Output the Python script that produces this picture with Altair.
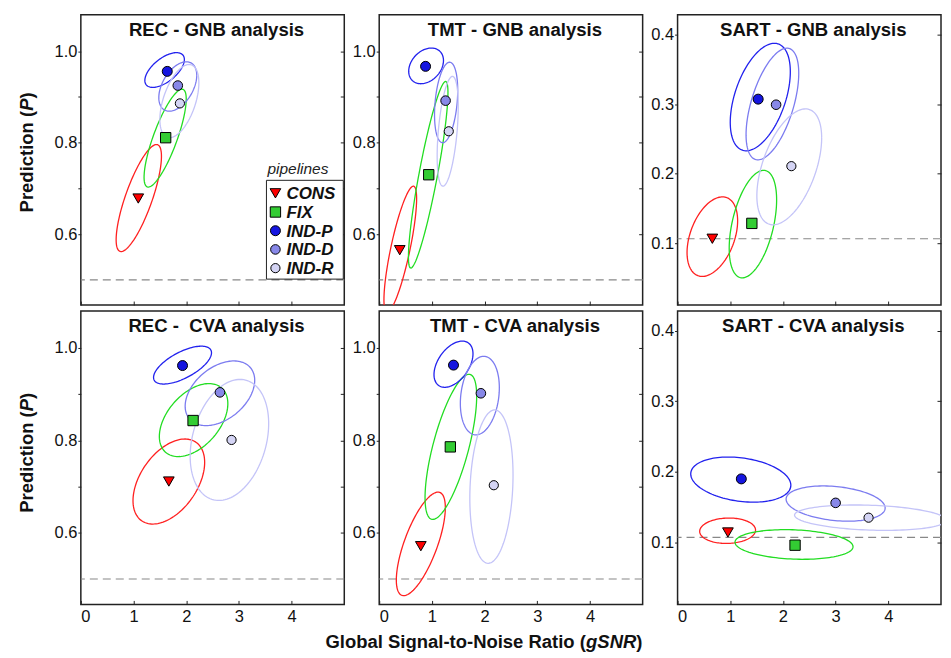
import altair as alt
import pandas as pd

FONT = "Liberation Sans"

pipelines = ["CONS", "FIX", "IND-P", "IND-D", "IND-R"]
fill_colors = ["#FF0000", "#33CC33", "#1515E0", "#8888E8", "#D4D4F4"]
ellipse_colors = ["#FF2020", "#22DD22", "#2222EE", "#7C7CF0", "#C4C4F8"]
shapes = ["triangle-down", "square", "circle", "circle", "circle"]
marker_sizes = [115, 85, 85, 85, 85]
legend_rank = [0, 1, 2, 3, 4]

panels = ["REC-GNB", "TMT-GNB", "SART-GNB", "REC-CVA", "TMT-CVA", "SART-CVA"]
panel_titles = ["REC - GNB analysis", "TMT - GNB analysis", "SART - GNB analysis",
                "REC -\u00a0 CVA analysis", "TMT - CVA analysis", "SART - CVA analysis"]
chance_levels = [0.5, 0.5, 0.107, 0.5, 0.5, 0.107]

# median points (pipeline order: CONS, FIX, IND-P, IND-D, IND-R)
point_x = {
    "REC-GNB": [1.09, 1.61, 1.64, 1.84, 1.88],
    "TMT-GNB": [0.39, 0.94, 0.88, 1.26, 1.32],
    "SART-GNB": [0.66, 1.41, 1.53, 1.87, 2.16],
    "REC-CVA": [1.67, 2.13, 1.93, 2.64, 2.86],
    "TMT-CVA": [0.79, 1.35, 1.41, 1.93, 2.175],
    "SART-CVA": [0.956, 2.23, 1.21, 3.0, 3.625],
}
point_y = {
    "REC-GNB": [0.678, 0.811, 0.956, 0.925, 0.886],
    "TMT-GNB": [0.565, 0.730, 0.967, 0.892, 0.825],
    "SART-GNB": [0.107, 0.129, 0.307, 0.299, 0.211],
    "REC-CVA": [0.711, 0.843, 0.962, 0.904, 0.801],
    "TMT-CVA": [0.571, 0.786, 0.963, 0.902, 0.703],
    "SART-CVA": [0.114, 0.096, 0.190, 0.156, 0.135],
}

# confidence ellipses: centre, half-extent in x and y, x-y correlation
ell_cx = {
    "REC-GNB": [1.10, 1.60, 1.59, 1.84, 1.87],
    "TMT-GNB": [0.40, 0.93, 0.89, 1.27, 1.30],
    "SART-GNB": [0.66, 1.43, 1.57, 1.80, 2.12],
    "REC-CVA": [1.67, 2.14, 1.93, 2.64, 2.82],
    "TMT-CVA": [0.79, 1.36, 1.41, 1.91, 2.13],
    "SART-CVA": [0.95, 2.21, 1.20, 3.00, 3.66],
}
ell_cy = {
    "REC-GNB": [0.679, 0.810, 0.959, 0.923, 0.891],
    "TMT-GNB": [0.567, 0.730, 0.968, 0.888, 0.825],
    "SART-GNB": [0.110, 0.128, 0.310, 0.300, 0.210],
    "REC-CVA": [0.711, 0.844, 0.963, 0.902, 0.801],
    "TMT-CVA": [0.576, 0.786, 0.965, 0.897, 0.700],
    "SART-CVA": [0.1165, 0.097, 0.189, 0.155, 0.135],
}
ell_sx = {
    "REC-GNB": [0.43, 0.40, 0.375, 0.36, 0.37],
    "TMT-GNB": [0.31, 0.375, 0.33, 0.22, 0.20],
    "SART-GNB": [0.48, 0.45, 0.57, 0.50, 0.615],
    "REC-CVA": [0.68, 0.65, 0.55, 0.66, 0.745],
    "TMT-CVA": [0.465, 0.49, 0.37, 0.37, 0.41],
    "SART-CVA": [0.53, 1.12, 0.95, 0.94, 1.44],
}
ell_sy = {
    "REC-GNB": [0.117, 0.107, 0.038, 0.054, 0.080],
    "TMT-GNB": [0.138, 0.204, 0.039, 0.088, 0.120],
    "SART-GNB": [0.057, 0.077, 0.077, 0.080, 0.083],
    "REC-CVA": [0.092, 0.079, 0.041, 0.070, 0.131],
    "TMT-CVA": [0.112, 0.157, 0.050, 0.085, 0.166],
    "SART-CVA": [0.018, 0.021, 0.032, 0.025, 0.018],
}
ell_r = {
    "REC-GNB": [0.78, 0.80, 0.60, 0.45, 0.50],
    "TMT-GNB": [0.80, 0.88, 0.30, 0.30, 0.45],
    "SART-GNB": [0.40, 0.45, 0.47, 0.55, 0.50],
    "REC-CVA": [0.45, 0.45, 0.65, 0.40, 0.27],
    "TMT-CVA": [0.70, 0.70, 0.45, 0.20, 0.15],
    "SART-CVA": [0.05, -0.15, -0.25, -0.25, -0.20],
}

pts_rows, ell_rows = [], []
for p in panels:
    for k, name in enumerate(pipelines):
        pts_rows.append({"panel": p, "pipeline": name, "x": point_x[p][k], "y": point_y[p][k]})
        ell_rows.append({"panel": p, "pipeline": name, "cx": ell_cx[p][k], "cy": ell_cy[p][k],
                         "sx": ell_sx[p][k], "sy": ell_sy[p][k], "r": ell_r[p][k]})
pts_df = pd.DataFrame(pts_rows)
ell_df = pd.DataFrame(ell_rows)
legend_df = pd.DataFrame({"pipeline": pipelines, "rank": legend_rank})

W = 264
HEIGHTS = [291, 294]
TITLE_SIZE = 18.5

color_scale = alt.Scale(domain=pipelines, range=fill_colors)
shape_scale = alt.Scale(domain=pipelines, range=shapes)
size_scale = alt.Scale(domain=pipelines, range=marker_sizes)


def text_piece(txt, x, y, angle=0, italic=False, bold=True, size=TITLE_SIZE, align="left",
               baseline="alphabetic", color="#111"):
    kw = dict(font=FONT, fontSize=size, color=color, align=align, baseline=baseline, angle=angle)
    if italic:
        kw["fontStyle"] = "italic"
    if bold:
        kw["fontWeight"] = "bold"
    return alt.Chart(pd.DataFrame({"t": [txt]})).mark_text(**kw).encode(
        text="t:N", x=alt.value(x), y=alt.value(y))


def y_title(center):
    # "Prediction (" + italic "P" + ")" reading bottom-to-top
    em = TITLE_SIZE
    w1, w2, w3 = 5.501 * em, 0.667 * em, 0.333 * em
    start = center + (w1 + w2 + w3) / 2
    xx = -54
    return [
        text_piece("Prediction (", xx, start, angle=270, baseline="middle"),
        text_piece("P", xx, start - w1, angle=270, baseline="middle", italic=True),
        text_piece(")", xx, start - w1 - w2, angle=270, baseline="middle"),
    ]


def x_title():
    # "Global Signal-to-Noise Ratio (" + italic "gSNR" + ")"
    em = TITLE_SIZE
    w1, w2 = 14.113 * em, 2.722 * em
    total = w1 + w2 + 0.333 * em
    x0 = 105 - total / 2
    yb = 338
    return [
        text_piece("Global Signal-to-Noise Ratio (", x0, yb),
        text_piece("gSNR", x0 + w1, yb, italic=True),
        text_piece(")", x0 + w1 + w2, yb),
    ]


def make_legend():
    ly = alt.Y("rank:Q", scale=alt.Scale(domain=[0, 4], range=[179, 254]), axis=None)
    box = alt.Chart(pd.DataFrame({"k": [0]})).mark_rect(
        fill="white", stroke="#222", strokeWidth=1
    ).encode(x=alt.value(186), x2=alt.value(263), y=alt.value(166), y2=alt.value(265))
    sym = alt.Chart(legend_df).mark_point(
        filled=True, stroke="black", strokeWidth=1, opacity=1
    ).encode(
        x=alt.value(195), y=ly,
        color=alt.Color("pipeline:N", scale=color_scale, legend=None),
        shape=alt.Shape("pipeline:N", scale=shape_scale, legend=None),
        size=alt.Size("pipeline:N", scale=size_scale, legend=None),
    )
    lab = alt.Chart(legend_df).mark_text(
        font=FONT, fontSize=17, fontStyle="italic", fontWeight="bold", color="#111",
        align="left", baseline="middle", dy=1
    ).encode(x=alt.value(206), y=ly, text="pipeline:N")
    ttl = text_piece("pipelines", 187, 160, italic=True, bold=False, size=15.5, color="#222")
    return alt.layer(box, sym, lab, ttl)


def make_panel(i):
    key = panels[i]
    row, col = divmod(i, 3)
    h = HEIGHTS[row]
    sart = key.startswith("SART")
    ydom = [0.012, 0.428] if sart else [0.445, 1.08]
    yvals = [0.1, 0.2, 0.3, 0.4] if sart else [0.6, 0.7, 0.8, 0.9, 1.0]
    lexpr = ("format(datum.value, '.1f')" if sart else
             "round(datum.value*10) % 2 == 0 ? format(datum.value, '.1f') : ''")

    yaxis = alt.Axis(title=None, values=yvals, labelExpr=lexpr, tickSize=3, domain=False, grid=False,
                     labelPadding=1, labelFont=FONT, labelFontSize=16.5, labelColor="#111",
                     tickColor="#222", labelFlush=False)
    xaxis = alt.Axis(title=None, values=[0, 1, 2, 3, 4], offset=-4, tickSize=4, domain=False,
                     grid=False, labels=(row == 1), labelPadding=4, labelFont=FONT,
                     labelFontSize=16.5, labelColor="#111", tickColor="#222", labelFlush=True)
    xs = alt.Scale(domain=[0, 5], nice=False, zero=False)
    ys = alt.Scale(domain=ydom, nice=False, zero=False)

    level_df = pd.DataFrame({"level": [chance_levels[i]]})
    rule = alt.Chart(level_df).mark_rule(
        color="#888888", strokeDash=[8, 5], strokeWidth=1.2
    ).encode(y=alt.Y("level:Q", scale=ys, axis=yaxis))

    ell = alt.Chart(ell_df[ell_df.panel == key]).transform_calculate(
        t="sequence(0, 6.35, 0.05)"
    ).transform_flatten(["t"]).transform_calculate(
        ex="datum.cx + datum.sx * cos(datum.t)",
        ey="datum.cy + datum.sy * (datum.r * cos(datum.t) + sqrt(1 - datum.r * datum.r) * sin(datum.t))",
    ).mark_line(clip=True, strokeWidth=1.3).encode(
        x=alt.X("ex:Q", scale=xs, axis=xaxis),
        y=alt.Y("ey:Q", scale=ys, axis=yaxis),
        stroke=alt.Stroke("pipeline:N", scale=alt.Scale(domain=pipelines, range=ellipse_colors), legend=None),
        detail="pipeline:N",
        order="t:Q",
    )

    pts = alt.Chart(pts_df[pts_df.panel == key]).mark_point(
        filled=True, stroke="black", strokeWidth=1, opacity=1
    ).encode(
        x=alt.X("x:Q", scale=xs, axis=xaxis),
        y=alt.Y("y:Q", scale=ys, axis=yaxis),
        color=alt.Color("pipeline:N", scale=color_scale, legend=None),
        shape=alt.Shape("pipeline:N", scale=shape_scale, legend=None),
        size=alt.Size("pipeline:N", scale=size_scale, legend=None),
    )

    title = text_piece(panel_titles[i], W / 2 + 4, 21, align="center", size=18.6)

    main = alt.layer(rule, ell, pts, title)

    # small inward ticks on the right-hand frame
    right = alt.Chart(level_df).mark_rule(opacity=0).encode(
        y=alt.Y("level:Q", scale=ys,
                axis=alt.Axis(orient="right", values=yvals, labels=False, tickSize=4, offset=-4,
                              domain=False, grid=False, title=None, tickColor="#222"))
    )
    layers = [main, right]
    extras = []
    if i == 0:
        extras.append(make_legend())
    if col == 0:
        extras += y_title(138 if row == 0 else 142)
    if i == 4:
        extras += x_title()
    if extras:
        layers.append(alt.layer(*extras))
    return alt.layer(*layers).resolve_scale(y="independent").properties(width=W, height=h)


chart = alt.concat(
    *[make_panel(i) for i in range(6)], columns=3,
    spacing={"row": 6, "column": 35}, bounds="flush"
).properties(
    padding={"left": 9, "top": 5, "right": 0, "bottom": 2},
    background="white",
).configure_view(stroke="#222", strokeWidth=1.5)

chart.save("out.html", embed_options={"renderer": "svg", "actions": False})
